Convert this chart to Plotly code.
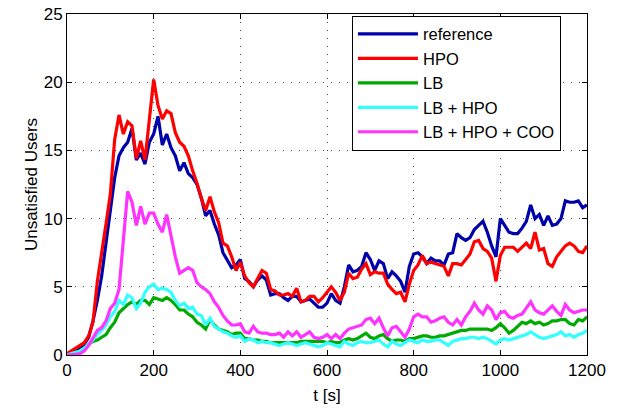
import plotly.graph_objects as go

t = list(range(0, 1201, 10))

reference = [0.1,0.2,0.3,0.5,0.8,1.3,2.5,4.0,5.8,8.2,10.5,13.0,14.6,15.2,15.6,16.6,14.3,14.8,14.0,15.6,
16.2,17.5,15.4,16.2,15.2,14.6,13.5,14.1,13.3,13.0,12.5,11.5,10.2,10.6,9.6,8.8,7.5,7.0,6.4,6.6,
7.0,5.6,5.4,5.0,5.5,5.8,5.5,4.4,4.5,4.5,4.2,4.0,4.3,4.3,3.9,4.0,4.1,3.8,3.5,3.5,
3.8,4.5,4.0,3.8,5.0,6.6,6.1,6.2,6.5,7.5,7.0,6.2,6.9,6.7,5.6,6.1,5.8,5.4,4.6,6.5,
7.4,7.5,7.2,6.7,7.1,6.9,6.9,6.6,7.4,7.5,8.9,8.6,8.4,8.6,9.2,9.5,9.8,9.0,8.0,7.2,
10.0,9.5,9.0,8.9,8.9,9.3,9.8,11.0,10.0,10.3,9.5,10.2,9.5,9.6,10.0,11.3,11.2,11.2,11.3,10.8,11.0]

hpo = [0.1,0.3,0.5,0.7,0.9,1.4,2.4,5.4,7.4,9.6,11.8,15.8,17.6,16.2,17.1,16.8,14.4,15.7,14.3,17.2,
20.2,18.3,17.3,17.9,17.7,16.3,15.6,15.3,14.6,13.5,12.6,11.5,10.6,11.6,10.5,9.7,8.2,8.0,7.2,6.2,
6.8,5.8,5.3,5.0,5.6,6.2,6.0,4.8,4.7,4.4,4.4,4.5,4.3,4.9,3.9,4.0,4.3,4.3,3.9,4.2,
4.6,5.0,4.6,4.0,4.6,6.0,5.6,5.7,6.3,6.7,5.9,6.1,6.0,6.0,5.2,4.8,4.5,4.6,3.9,5.2,
6.2,6.6,7.3,6.7,6.8,6.7,6.6,6.5,5.8,6.7,6.7,6.6,7.0,7.4,8.3,8.4,7.8,7.6,7.1,5.4,
7.3,7.9,7.9,7.9,7.6,7.9,8.2,7.8,9.0,7.7,7.8,6.7,6.5,7.2,7.6,8.0,8.2,8.0,7.6,7.5,8.0]

lb = [0.0,0.1,0.2,0.3,0.5,0.8,1.0,1.1,1.3,1.5,2.0,2.4,3.1,3.4,3.7,3.9,3.7,4.0,4.0,3.7,
4.2,4.1,4.0,4.2,4.0,3.7,3.3,3.3,3.0,2.8,2.4,2.2,1.9,2.6,2.2,1.9,1.8,1.7,1.5,1.6,
1.6,1.2,1.2,1.1,1.1,1.0,1.0,0.9,0.9,0.9,0.9,0.9,0.9,0.9,1.0,1.0,1.0,1.0,1.0,1.0,
0.9,1.0,0.9,0.9,1.1,1.2,1.1,1.2,1.4,1.6,1.3,1.2,1.4,1.5,1.2,1.0,1.1,1.1,1.0,1.2,
1.2,1.3,1.4,1.4,1.3,1.3,1.4,1.4,1.5,1.6,1.7,1.8,1.8,1.9,1.9,1.9,1.9,1.9,1.8,2.0,
2.3,2.0,1.6,1.8,2.1,2.4,2.3,2.5,2.3,2.4,2.2,2.3,2.5,2.5,2.6,2.6,2.3,2.2,2.6,2.5,2.8]

lb_hpo = [0.0,0.1,0.2,0.3,0.5,0.8,1.1,1.5,1.8,2.2,2.8,3.2,4.0,3.7,4.4,4.2,3.4,3.8,4.6,5.0,
5.2,4.8,4.9,4.8,4.6,4.0,3.6,3.8,3.4,3.5,3.0,2.9,2.2,2.7,2.1,1.9,1.7,1.6,1.4,1.3,
1.4,1.0,1.2,1.1,0.9,1.0,0.9,0.9,0.8,0.7,0.8,0.9,0.8,0.7,0.8,0.9,0.8,0.7,0.6,0.7,
0.9,0.8,0.7,0.6,1.0,0.8,0.7,0.9,1.0,0.9,0.9,1.0,1.1,0.8,0.6,1.0,0.8,0.7,0.9,1.1,
1.0,0.9,1.1,1.0,1.0,1.1,1.1,0.9,0.7,1.0,1.1,1.2,1.2,1.3,1.3,1.2,1.3,1.2,1.0,0.8,
1.1,1.2,1.1,1.2,1.3,1.4,1.5,1.7,1.5,1.3,1.2,1.3,1.4,1.5,1.7,1.4,1.5,1.3,1.5,1.6,1.8]

lb_hpo_coo = [0.0,0.0,0.05,0.1,0.3,0.7,1.3,1.8,2.0,2.5,3.4,3.8,4.8,8.4,12.0,11.2,9.5,10.9,9.6,10.4,
10.4,9.6,9.0,10.3,8.8,7.2,6.0,6.2,6.4,6.2,5.3,5.0,4.8,4.5,3.9,3.5,2.9,2.5,2.2,2.2,
2.3,1.7,1.6,2.1,1.7,1.6,1.6,1.5,1.5,1.6,1.3,1.7,1.4,1.7,1.3,1.5,1.7,1.3,1.2,1.3,
1.5,1.2,1.5,1.2,1.6,1.9,2.0,2.1,2.2,2.6,2.7,2.3,2.7,2.0,1.4,2.0,2.1,1.7,1.3,1.9,
2.8,3.0,2.8,2.8,2.4,2.5,2.7,2.8,2.4,2.2,2.6,2.2,2.8,3.2,3.8,3.3,3.0,3.6,3.3,2.6,
3.1,3.2,2.8,2.7,2.9,3.0,3.5,3.9,3.3,3.1,3.0,3.3,3.6,3.2,2.9,3.7,3.3,3.1,3.2,3.3,3.3]

names = ["reference", "HPO", "LB", "LB + HPO", "LB + HPO + COO"]
series = [reference, hpo, lb, lb_hpo, lb_hpo_coo]
colors = ["#0000aa", "#ff0000", "#00aa00", "#33ffff", "#ff33ff"]

x_ticks = [0, 200, 400, 600, 800, 1000, 1200]
y_ticks = [0, 5, 10, 15, 20, 25]

fig = go.Figure()
for name, ys, c in zip(names, series, colors):
    fig.add_trace(go.Scatter(x=t, y=ys, mode="lines", name=name,
                             line=dict(color=c, width=3.2)))

font = "Liberation Sans, Arial, sans-serif"
axis_common = dict(
    showline=True, linecolor="black", linewidth=1, mirror="ticks",
    ticks="inside", ticklen=5, tickcolor="black",
    showgrid=True, gridcolor="#444444", griddash="1px,7px", gridwidth=1,
    zeroline=False, automargin=False,
    tickfont=dict(size=17, color="black", family=font),
)

fig.update_layout(
    width=618, height=409,
    margin=dict(l=67, r=31, t=14, b=54),
    paper_bgcolor="white", plot_bgcolor="white",
    font=dict(family=font, size=17, color="black"),
    xaxis=dict(range=[0, 1200], tickvals=x_ticks, title=dict(text="t [s]", standoff=9,
               font=dict(size=17)), **axis_common),
    yaxis=dict(range=[0, 25], tickvals=y_ticks, title=dict(text="Unsatisfied Users", standoff=1,
               font=dict(size=17)), **axis_common),
    legend=dict(x=0.548, y=0.995, xanchor="left", yanchor="top",
                bgcolor="white", bordercolor="black", borderwidth=1,
                font=dict(size=16.5, color="black", family=font),
                tracegroupgap=0, itemwidth=60),
    showlegend=True,
)

fig.write_html("out.html")
